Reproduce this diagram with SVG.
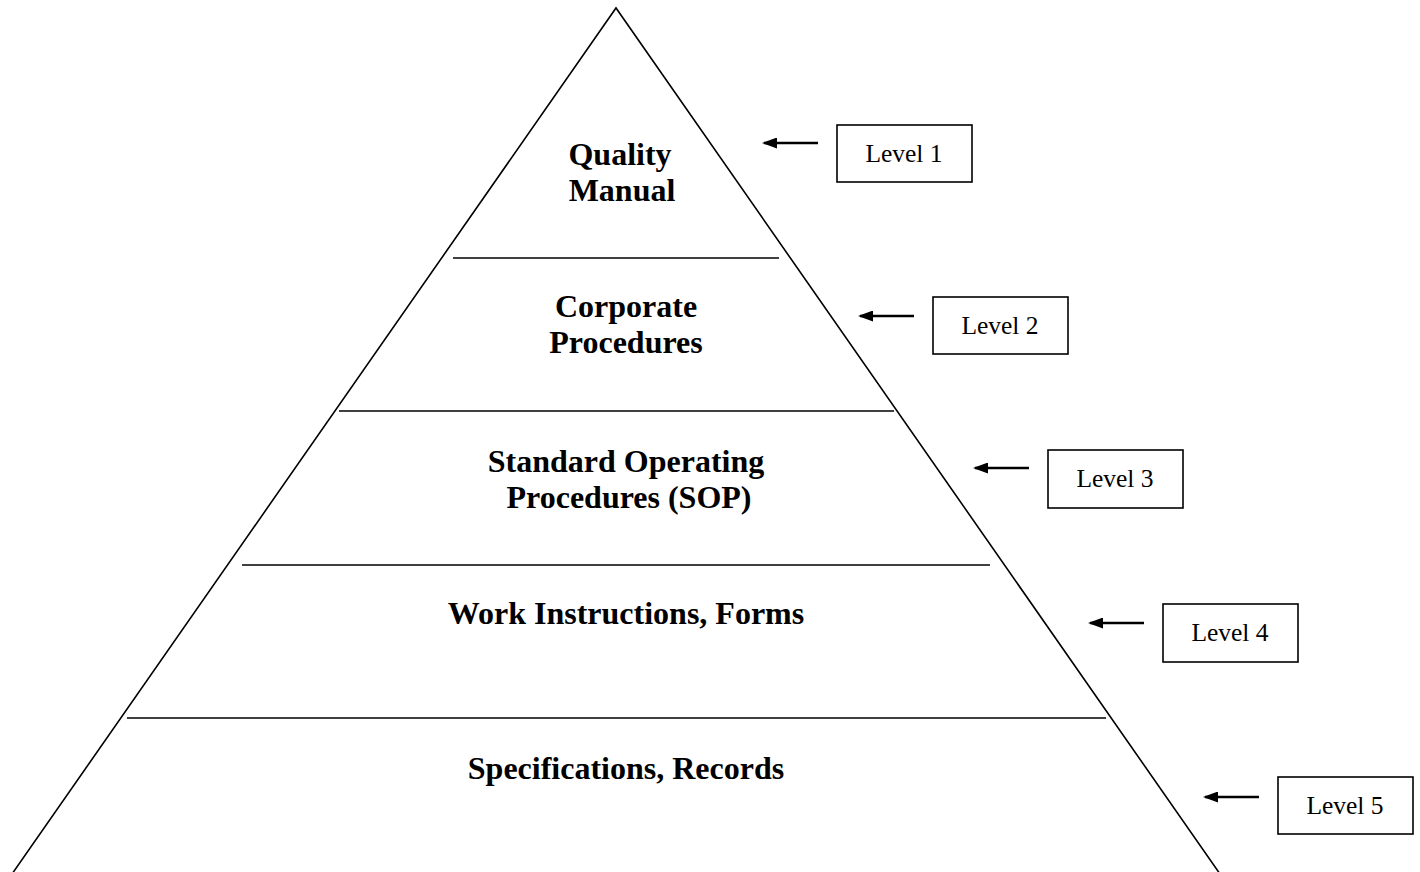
<svg xmlns="http://www.w3.org/2000/svg" width="1420" height="872" viewBox="0 0 1420 872">
<style>
.ln{stroke:#000;stroke-width:1.6;fill:none}
.ar{stroke:#000;stroke-width:2.6;fill:none}
.t{font-family:"Liberation Serif",serif;font-weight:bold;font-size:32px;text-anchor:middle;fill:#000}
.lv{font-family:"Liberation Serif",serif;font-size:25.5px;text-anchor:middle;fill:#000}
.box{fill:#fff;stroke:#000;stroke-width:1.6}
</style>
<defs>
<marker id="ah" markerWidth="15" markerHeight="11" refX="13" refY="5.5" orient="auto" markerUnits="userSpaceOnUse">
<path d="M0,0 L15,5.5 L0,11 Z" fill="#000"/>
</marker>
</defs>
<rect width="1420" height="872" fill="#fff"/>
<g id="pyramid">
<polyline class="ln" points="12,874 616,8 1220,874"/>
<line class="ln" x1="453" y1="258" x2="779" y2="258"/>
<line class="ln" x1="339" y1="411" x2="894" y2="411"/>
<line class="ln" x1="242" y1="565" x2="990" y2="565"/>
<line class="ln" x1="127" y1="718" x2="1106" y2="718"/>
</g>
<g id="tier1"><text class="t" x="620" y="165">Quality</text><text class="t" x="622" y="201">Manual</text></g>
<g id="tier2"><text class="t" x="626" y="317">Corporate</text><text class="t" x="626" y="353">Procedures</text></g>
<g id="tier3"><text class="t" x="626" y="472">Standard Operating</text><text class="t" x="629" y="508">Procedures (SOP)</text></g>
<g id="tier4"><text class="t" x="626" y="624">Work Instructions, Forms</text></g>
<g id="tier5"><text class="t" x="626" y="779">Specifications, Records</text></g>
<g id="level1"><rect class="box" x="837" y="125" width="135" height="57"/><text class="lv" x="904" y="162">Level 1</text></g>
<g id="level2"><rect class="box" x="933" y="297" width="135" height="57"/><text class="lv" x="1000" y="334">Level 2</text></g>
<g id="level3"><rect class="box" x="1048" y="450" width="135" height="58"/><text class="lv" x="1115" y="487">Level 3</text></g>
<g id="level4"><rect class="box" x="1163" y="604" width="135" height="58"/><text class="lv" x="1230" y="641">Level 4</text></g>
<g id="level5"><rect class="box" x="1278" y="777" width="135" height="57"/><text class="lv" x="1345" y="814">Level 5</text></g>
<g id="connectors">
<line class="ar" x1="818" y1="143" x2="764" y2="143" marker-end="url(#ah)"/>
<line class="ar" x1="914" y1="316" x2="860" y2="316" marker-end="url(#ah)"/>
<line class="ar" x1="1029" y1="468" x2="975" y2="468" marker-end="url(#ah)"/>
<line class="ar" x1="1144" y1="623" x2="1090" y2="623" marker-end="url(#ah)"/>
<line class="ar" x1="1259" y1="797" x2="1205" y2="797" marker-end="url(#ah)"/>
</g>
</svg>
